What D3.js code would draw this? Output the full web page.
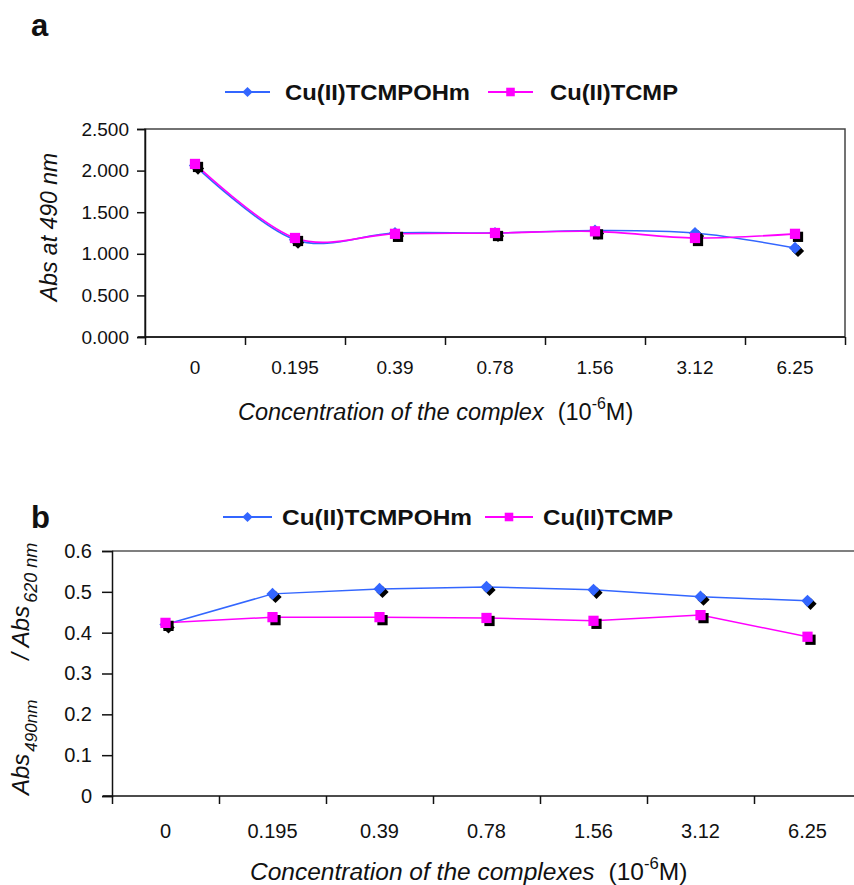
<!DOCTYPE html>
<html>
<head>
<meta charset="utf-8">
<script src="https://cdn.jsdelivr.net/npm/d3@7"></script>
<style>
  html, body { margin: 0; padding: 0; background: #fff; }
  svg text { font-family: "Liberation Sans", Arial, sans-serif; fill: #111; }
</style>
</head>
<body>
<svg id="fig" width="854" height="885"></svg>
<script>
// Concentrations (x categories, 10^-6 M)
const concentrations = ["0", "0.195", "0.39", "0.78", "1.56", "3.12", "6.25"];
const seriesNames = ["Cu(II)TCMPOHm", "Cu(II)TCMP"];

// Panel a: absorbance at 490 nm
const absOHm = [2.06, 1.17, 1.25, 1.25, 1.28, 1.25, 1.07];
const absTCMP = [2.08, 1.19, 1.24, 1.25, 1.27, 1.19, 1.24];
const ticksA = [0, 0.5, 1.0, 1.5, 2.0, 2.5];

// Panel b: ratio Abs490 / Abs620
const ratioOHm = [0.42, 0.495, 0.507, 0.512, 0.505, 0.488, 0.478];
const ratioTCMP = [0.424, 0.438, 0.438, 0.436, 0.429, 0.443, 0.39];
const ticksB = [0, 0.1, 0.2, 0.3, 0.4, 0.5, 0.6];

const BLUE = "#3366ff", MAGENTA = "#ff00ff";
const svg = d3.select("#fig");

// marker shapes: diamond = square turned 45 degrees
const markers = [
  { type: d3.symbolSquare, size: 75, rot: 45 },
  { type: d3.symbolSquare, size: 105, rot: 0 }
];

function panel(cfg) {
  const g = svg.append("g");
  const x = d3.scaleBand().domain(concentrations).range([cfg.left, cfg.right]);
  const xi = d3.scaleLinear().domain([0, concentrations.length]).range([cfg.left, cfg.right]);
  const y = d3.scaleLinear().domain(cfg.yDomain).range([cfg.bottom, cfg.top]);
  const cx = i => x(concentrations[i]) + x.bandwidth() / 2;

  // frame
  if (cfg.box) {
    g.append("rect").attr("x", cfg.left).attr("y", cfg.top)
      .attr("width", cfg.right - cfg.left).attr("height", cfg.bottom - cfg.top)
      .attr("fill", "none").attr("stroke", "#444").attr("stroke-width", 1.5);
  } else {
    g.append("line").attr("x1", cfg.left).attr("x2", 854)
      .attr("y1", cfg.top).attr("y2", cfg.top)
      .attr("stroke", "#555").attr("stroke-width", 1.5);
  }

  // y axis
  const ya = g.append("g").attr("transform", `translate(${cfg.left},0)`)
    .call(d3.axisLeft(y).tickValues(cfg.yTicks).tickSize(cfg.yTickLen).tickPadding(cfg.yPad).tickFormat(cfg.yFmt));
  ya.select(".domain").attr("stroke", "#111").attr("stroke-width", 1.5);
  ya.selectAll(".tick line").attr("stroke", "#111").attr("stroke-width", 1.5);
  ya.selectAll(".tick text").attr("font-size", cfg.tickFont).attr("fill", "#222");

  // x axis: ticks at category boundaries
  const xa = g.append("g").attr("transform", `translate(0,${cfg.bottom})`)
    .call(d3.axisBottom(xi).tickValues(d3.range(0, concentrations.length + 1)).tickSize(cfg.xTickLen).tickFormat(""));
  xa.select(".domain").remove();
  xa.append("line").attr("x1", cfg.axisX0).attr("x2", cfg.axisX1)
    .attr("stroke", "#111").attr("stroke-width", 1.5);
  xa.selectAll(".tick line").attr("stroke", "#111").attr("stroke-width", 1.5);

  // category labels centred in each band
  const xl = g.append("g").attr("transform", `translate(0,${cfg.bottom})`)
    .call(d3.axisBottom(x).tickSize(0).tickPadding(cfg.xPad));
  xl.select(".domain").remove();
  xl.selectAll(".tick text").attr("font-size", cfg.tickFont).attr("fill", "#222");

  // series
  const curve = cfg.smooth ? d3.curveCardinal.tension(0) : d3.curveLinear;
  const line = d3.line().x((d, i) => cx(i)).y(d => y(d)).curve(curve);
  const series = [
    { vals: cfg.s1, color: BLUE, m: markers[0] },
    { vals: cfg.s2, color: MAGENTA, m: markers[1] }
  ];
  series.forEach(s => {
    g.append("path").attr("d", line(s.vals)).attr("fill", "none")
      .attr("stroke", s.color).attr("stroke-width", cfg.lineW);
    const sym = d3.symbol().type(s.m.type).size(s.m.size);
    // dark drop shadow under each marker
    g.selectAll(null).data(s.vals).enter().append("path")
      .attr("d", sym)
      .attr("transform", (d, i) => `translate(${cx(i) + 3},${y(d) + 3}) rotate(${s.m.rot})`)
      .attr("fill", "#000");
    g.selectAll(null).data(s.vals).enter().append("path")
      .attr("d", sym)
      .attr("transform", (d, i) => `translate(${cx(i)},${y(d)}) rotate(${s.m.rot})`)
      .attr("fill", s.color);
  });

  // legend
  const lg = g.append("g");
  cfg.legend.forEach((L, k) => {
    const s = series[k];
    lg.append("line").attr("x1", L.x0).attr("x2", L.x1).attr("y1", cfg.legendY).attr("y2", cfg.legendY)
      .attr("stroke", s.color).attr("stroke-width", 2);
    lg.append("path").attr("d", d3.symbol().type(s.m.type).size(s.m.size * 0.7))
      .attr("transform", `translate(${(L.x0 + L.x1) / 2},${cfg.legendY}) rotate(${s.m.rot})`).attr("fill", s.color);
    lg.append("text").attr("x", L.tx).attr("y", cfg.legendY + 8)
      .attr("font-size", 22).attr("font-weight", "bold")
      .attr("textLength", L.tw).attr("lengthAdjust", "spacingAndGlyphs")
      .text(seriesNames[k]);
  });

  return { g, x, y };
}

// ---- panel a ----
panel({
  left: 145, right: 845, top: 129, bottom: 337, box: true,
  axisX0: 138, axisX1: 845,
  yDomain: [0, 2.5], yTicks: ticksA, yFmt: d3.format(".3f"),
  yTickLen: 8, yPad: 8, xTickLen: 8, xPad: 24, tickFont: 19,
  s1: absOHm, s2: absTCMP, smooth: true, lineW: 1.6,
  legendY: 92,
  legend: [{ x0: 225, x1: 270, tx: 285, tw: 185 }, { x0: 488, x1: 533, tx: 550, tw: 128 }]
});

// ---- panel b ----
panel({
  left: 112, right: 861, top: 551, bottom: 796, box: false,
  axisX0: 103, axisX1: 854,
  yDomain: [0, 0.6], yTicks: ticksB, yFmt: d => d === 0 ? "0" : d3.format(".1f")(d),
  yTickLen: 10, yPad: 10, xTickLen: 8, xPad: 28, tickFont: 20,
  s1: ratioOHm, s2: ratioTCMP, smooth: false, lineW: 1.5,
  legendY: 517,
  legend: [{ x0: 223, x1: 272, tx: 282, tw: 190 }, { x0: 485, x1: 533, tx: 543, tw: 130 }]
});

// panel letters
svg.append("text").attr("x", 31).attr("y", 36).attr("font-size", 31).attr("font-weight", "bold").text("a");
svg.append("text").attr("x", 31).attr("y", 528).attr("font-size", 31).attr("font-weight", "bold").text("b");

// axis title, panel a
svg.append("text").attr("transform", "translate(57,227) rotate(-90)")
  .attr("text-anchor", "middle").attr("font-size", 23).attr("font-style", "italic")
  .attr("fill", "#222").text("Abs at 490 nm");

function concTitle(x0, yb, label, size) {
  const t = svg.append("text").attr("x", x0).attr("y", yb).attr("font-size", size).attr("fill", "#222");
  t.append("tspan").attr("font-style", "italic").text(label);
  t.append("tspan").attr("dx", 14).text("(10");
  t.append("tspan").attr("dy", -11).attr("font-size", size * 0.68).text("-6");
  t.append("tspan").attr("dy", 11).text("M)");
}
concTitle(238, 420, "Concentration of the complex", 23.5);
concTitle(250, 880, "Concentration of the complexes", 24.5);

// axis title, panel b (with subscripts)
const yt = svg.append("text").attr("transform", "translate(29,795) rotate(-90)")
  .attr("font-size", 24).attr("font-style", "italic").attr("fill", "#222");
yt.append("tspan").text("Abs");
yt.append("tspan").attr("font-size", 17).attr("dx", 2).attr("dy", 8).text("490nm");
yt.append("tspan").attr("dx", 40).attr("dy", -8).text("/ Abs");
yt.append("tspan").attr("font-size", 18).attr("dx", 3).attr("dy", 8).text("620 nm");
</script>
</body>
</html>
